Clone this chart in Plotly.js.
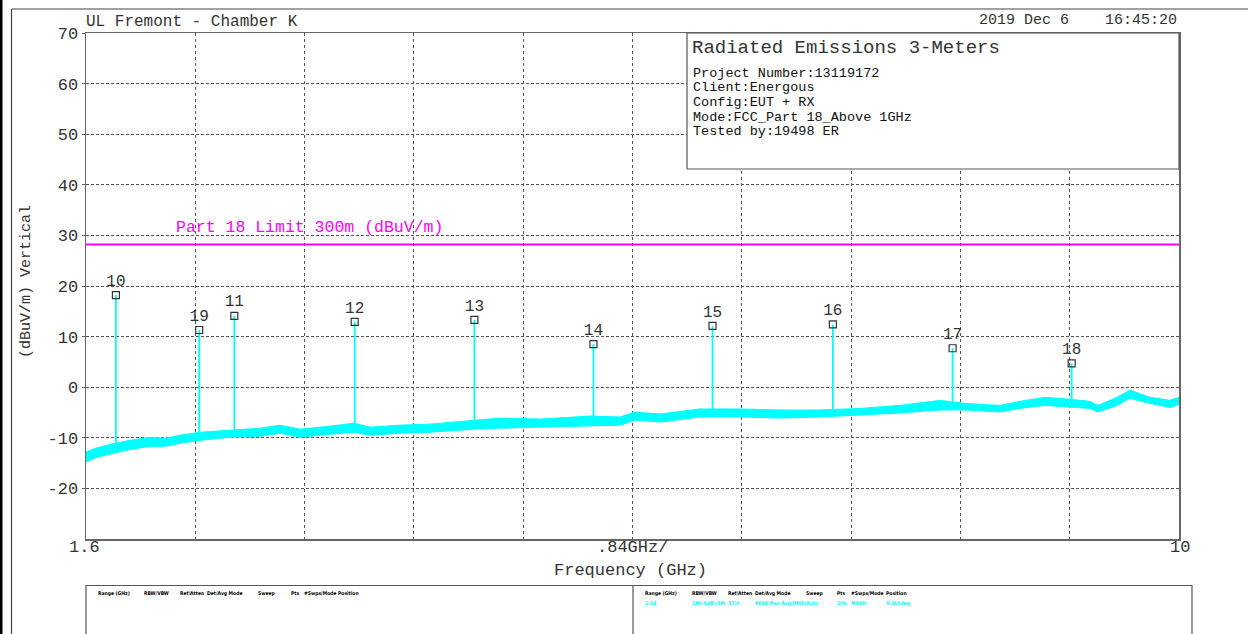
<!DOCTYPE html>
<html>
<head>
<meta charset="utf-8">
<script src="https://cdn.plot.ly/plotly-3.0.1.min.js"></script>
<style>
  html, body { margin: 0; padding: 0; background: #fff; }
  #chart { width: 1248px; height: 634px; }
</style>
</head>
<body>
<div id="chart"></div>
<script>
// Sweep noise floor envelope (GHz, dBuV/m)
const noiseFreq = [1.600, 1.669, 1.784, 1.938, 2.092, 2.207, 2.322, 2.476, 2.707, 2.937,
  3.091, 3.245, 3.475, 3.660, 3.783, 4.013, 4.244, 4.582, 4.782, 5.089,
  5.473, 5.704, 5.819, 6.011, 6.318, 6.626, 6.934, 7.241, 7.548, 7.856,
  8.163, 8.355, 8.624, 8.778, 8.970, 9.162, 9.316, 9.377, 9.508, 9.623,
  9.777, 9.931, 10.000];
const noiseHigh = [-12.8, -12.1, -11.3, -10.5, -9.9, -10.1, -9.5, -8.9, -8.5, -8.1,
  -7.5, -8.3, -7.7, -7.1, -7.9, -7.5, -7.3, -6.5, -6.1, -6.3,
  -5.7, -5.9, -4.9, -5.3, -4.3, -4.3, -4.5, -4.5, -4.2, -3.6,
  -2.6, -3.2, -3.6, -2.8, -2.0, -2.4, -2.8, -3.6, -2.2, -0.6,
  -2.0, -2.6, -2.0];
const noiseLow = [-14.8, -14.0, -13.2, -12.3, -11.7, -11.7, -11.1, -10.5, -9.9, -9.7,
  -9.1, -9.9, -9.3, -8.9, -9.5, -9.1, -8.9, -8.3, -8.1, -7.9,
  -7.7, -7.5, -6.5, -6.9, -5.9, -5.9, -6.1, -5.9, -5.5, -5.1,
  -4.5, -4.5, -4.9, -4.2, -3.6, -4.0, -4.2, -4.9, -3.8, -2.2,
  -3.2, -4.0, -3.4];

// Marked peaks
const markerIds = ['10', '19', '11', '12', '13', '14', '15', '16', '17', '18'];
const markerFreq = [1.83, 2.47, 2.74, 3.665, 4.585, 5.50, 6.415, 7.34, 8.26, 9.175];
const markerLevel = [18.2, 11.3, 14.1, 12.9, 13.3, 8.5, 12.1, 12.4, 7.7, 4.7];
const markerFloor = [-12.3, -9.7, -9.2, -8.0, -7.4, -6.7, -5.1, -5.2, -3.6, -3.2];

// Limit line
const limitName = 'Part 18 Limit 300m (dBuV/m)';
const limitLevel = 28.2;
const freqSpan = [1.6, 10];

// Y axis labels
const yTicks = [-20, -10, 0, 10, 20, 30, 40, 50, 60, 70];

// Header / info text
const siteTitle = 'UL Fremont - Chamber K';
const stamp = '2019 Dec 6    16:45:20';
const infoTitle = 'Radiated Emissions 3-Meters';
const infoLines = ['Project Number:13119172', 'Client:Energous', 'Config:EUT + RX',
  'Mode:FCC_Part 18_Above 1GHz', 'Tested by:19498 ER'];

// Sweep settings table
const tableHeads = ['Range (GHz)', 'RBW/VBW', 'Ref/Atten', 'Det/Avg Mode', 'Sweep', 'Pts', '#Swps/Mode', 'Position'];
const tableVals = ['1-18', '1M(-6dB)/3M', '37/0', 'PEAK/Pwr Avg(RMS)', 'Auto', '10k', 'MAXH', 'V-360deg'];

// ---- page geometry helpers (pixel -> paper) ----
const L = 86, R = 1179, T = 33, B = 539;
const px = x => (x - L) / (R - L);
const py = y => (B - y) / (B - T);

const MONO = 'Liberation Mono, DejaVu Sans Mono, monospace';
const CYAN = '#00ffff';
const INK = '#333333';

// stem segments from floor to peak
const stemX = [], stemY = [];
markerFreq.forEach((f, i) => {
  stemX.push(f, f, null);
  stemY.push(markerFloor[i], markerLevel[i], null);
});

const traces = [
  { x: noiseFreq, y: noiseLow, mode: 'lines', line: { color: CYAN, width: 1 }, hoverinfo: 'skip' },
  { x: noiseFreq, y: noiseHigh, mode: 'lines', fill: 'tonexty', fillcolor: CYAN,
    line: { color: CYAN, width: 1 }, hoverinfo: 'skip' },
  { x: stemX, y: stemY, mode: 'lines', line: { color: CYAN, width: 1.8 }, hoverinfo: 'skip' },
  { x: freqSpan, y: [limitLevel, limitLevel], mode: 'lines', line: { color: '#ff00ff', width: 2 }, hoverinfo: 'skip' },
  { x: markerFreq, y: markerLevel, mode: 'markers+text', text: markerIds,
    textposition: 'top center', textfont: { family: MONO, size: 16, color: INK },
    marker: { symbol: 'square-open', size: 7, color: INK, line: { width: 1.2, color: INK } },
    hoverinfo: 'skip' }
];

const annotations = [];
function note(text, x, y, opts) {
  annotations.push(Object.assign({
    text: text, xref: 'paper', yref: 'paper', x: px(x), y: py(y),
    showarrow: false, xanchor: 'left', yanchor: 'middle',
    font: { family: MONO, size: 16, color: INK }
  }, opts || {}));
}

note(siteTitle, 84, 22, { font: { family: MONO, size: 16, color: INK } });
note(stamp, 1179, 21, { xanchor: 'right', font: { family: MONO, size: 15, color: INK } });
note(infoTitle, 690, 48, { font: { family: MONO, size: 19, color: INK } });
infoLines.forEach((t, i) => note(t, 691, 73 + i * 14.7, { font: { family: MONO, size: 13.5, color: '#111' } }));
note(limitName, 174, 227, { font: { family: MONO, size: 16.5, color: '#ff00ff' } });
note('1.6', 84, 547, { xanchor: 'center', font: { family: MONO, size: 17, color: INK } });
note('.84GHz/', 632, 547, { xanchor: 'center', font: { family: MONO, size: 17, color: INK } });
note('10', 1180, 547, { xanchor: 'center', font: { family: MONO, size: 17, color: INK } });
note('Frequency (GHz)', 630, 570, { xanchor: 'center', font: { family: MONO, size: 17, color: INK } });
note('(dBuV/m) Vertical', 26, 282, { xanchor: 'center', textangle: -90, font: { family: MONO, size: 15, color: INK } });

// sweep table text
const headLeftX = [96, 142, 178, 205, 256, 289, 302, 336];
const headRightX = [643, 690, 726, 753, 804, 835, 849, 884];
const SMALL = 'Liberation Sans Narrow, DejaVu Sans Condensed, Arial Narrow, sans-serif';
const small = c => ({ family: SMALL, size: 5, color: c, weight: 'bold' });
tableHeads.forEach((t, i) => {
  note(t, headLeftX[i], 593, { font: small('#000') });
  note(t, headRightX[i], 593, { font: small('#000') });
  note(tableVals[i], headRightX[i], 603, { font: small(CYAN) });
});

const frame = { color: '#555', width: 1.2 };
const shapes = [
  // info panel
  { type: 'rect', xref: 'paper', yref: 'paper', x0: px(687), x1: px(1179), y0: py(169), y1: py(33),
    fillcolor: '#fff', line: frame, layer: 'above' },
  // settings table boxes
  { type: 'rect', xref: 'paper', yref: 'paper', x0: px(86), x1: px(1192), y0: py(645), y1: py(585.5),
    fillcolor: 'rgba(0,0,0,0)', line: frame },
  { type: 'line', xref: 'paper', yref: 'paper', x0: px(633), x1: px(633), y0: py(645), y1: py(585.5), line: frame },
  // page frame
  { type: 'line', xref: 'paper', yref: 'paper', x0: px(11.5), x1: px(11.5), y0: py(645), y1: py(9), line: { color: '#444', width: 1.2 } },
  { type: 'line', xref: 'paper', yref: 'paper', x0: px(11.5), x1: px(1260), y0: py(9), y1: py(9), line: { color: '#444', width: 1.2 } },
  { type: 'line', xref: 'paper', yref: 'paper', x0: px(1), x1: px(1), y0: py(645), y1: py(-5), line: { color: '#000', width: 3 } }
];

const layout = {
  width: 1248, height: 634,
  margin: { l: L, r: 1248 - R, t: T, b: 634 - B, pad: 0 },
  paper_bgcolor: '#fff', plot_bgcolor: '#fff',
  showlegend: false, hovermode: false,
  xaxis: {
    range: freqSpan, tick0: 1.6, dtick: 0.84, showticklabels: false, ticks: '',
    showgrid: true, gridcolor: '#555', gridwidth: 1, griddash: '3px,3px',
    showline: true, mirror: true, linecolor: '#666', linewidth: 1.5, zeroline: false
  },
  yaxis: {
    range: [-30, 70], tickmode: 'array', tickvals: yTicks, ticktext: yTicks.map(String),
    ticks: 'outside', ticklen: 3, tickcolor: '#666',
    tickfont: { family: MONO, size: 17, color: INK },
    showgrid: true, gridcolor: '#555', gridwidth: 1, griddash: '3px,2px',
    showline: true, mirror: true, linecolor: '#666', linewidth: 1.5, zeroline: false
  },
  annotations: annotations,
  shapes: shapes
};

Plotly.newPlot('chart', traces, layout, { staticPlot: true, displayModeBar: false });
</script>
</body>
</html>
